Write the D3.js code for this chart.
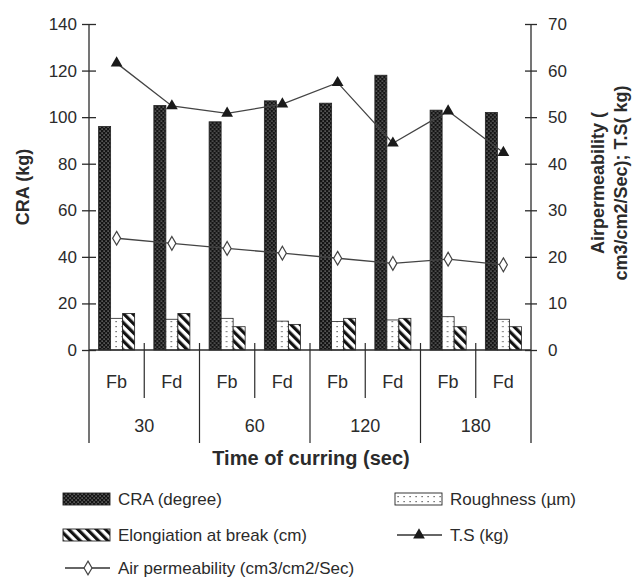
<!DOCTYPE html>
<html>
<head>
<meta charset="utf-8">
<script src="https://cdn.jsdelivr.net/npm/d3@7"></script>
<style>
    body { margin: 0; background: #fff; }
    svg { font-family: "Liberation Sans", Arial, sans-serif; }
</style>
</head>
<body>
<svg id="chart"></svg>
<script>
// data
const times = ['30', '60', '120', '180'];
const fabrics = ['Fb', 'Fd'];
const craVals = [96, 105, 98, 107, 106, 118, 103, 102];
const roughVals = [13.6, 13.2, 13.6, 12.4, 12.2, 12.9, 14.3, 13.2];
const elongVals = [15.7, 15.7, 10, 11, 13.6, 13.6, 10, 10];
const tsVals = [61.6, 52.4, 50.8, 52.8, 57.4, 44.4, 51.3, 42.4];
const airVals = [24.0, 22.9, 21.8, 20.8, 19.7, 18.6, 19.5, 18.3];
const leftTicks = [0, 20, 40, 60, 80, 100, 120, 140];
const rightTicks = [0, 10, 20, 30, 40, 50, 60, 70];

const config = {
    width: 632, height: 580,
    margin: { top: 24, left: 89, right: 101, bottom: 230 }
};
const innerW = config.width - config.margin.left - config.margin.right;
const innerH = config.height - config.margin.top - config.margin.bottom;
const ink = '#2b2b2b';

const cats = [];
times.forEach(t => fabrics.forEach(f => cats.push(t + '|' + f)));
const rows = cats.map((c, i) => ({
    key: c, time: c.split('|')[0], fab: c.split('|')[1],
    cra: craVals[i], rough: roughVals[i], elong: elongVals[i],
    ts: tsVals[i], air: airVals[i]
}));
const barKeys = ['cra', 'rough', 'elong'];

const svg = d3.select('#chart')
    .attr('width', config.width)
    .attr('height', config.height);

// fill patterns
const defs = svg.append('defs');
const craPat = defs.append('pattern').attr('id', 'pCra')
    .attr('patternUnits', 'userSpaceOnUse').attr('width', 4).attr('height', 4);
craPat.append('rect').attr('width', 4).attr('height', 4).attr('fill', '#151515');
craPat.append('rect').attr('x', 0.5).attr('y', 0.5).attr('width', 1.2).attr('height', 1.2).attr('fill', '#9a9a9a');
craPat.append('rect').attr('x', 2.5).attr('y', 2.5).attr('width', 1.2).attr('height', 1.2).attr('fill', '#9a9a9a');

const roughPat = defs.append('pattern').attr('id', 'pRough')
    .attr('patternUnits', 'userSpaceOnUse').attr('width', 6).attr('height', 5);
roughPat.append('rect').attr('width', 6).attr('height', 5).attr('fill', '#fff');
roughPat.append('rect').attr('x', 2.5).attr('y', 2).attr('width', 1.2).attr('height', 1.2).attr('fill', '#444');

const elongPat = defs.append('pattern').attr('id', 'pElong')
    .attr('patternUnits', 'userSpaceOnUse').attr('width', 6.5).attr('height', 6.5)
    .attr('patternTransform', 'rotate(-45)');
elongPat.append('rect').attr('width', 6.5).attr('height', 6.5).attr('fill', '#fff');
elongPat.append('rect').attr('width', 3.2).attr('height', 6.5).attr('fill', '#111');

const fills = { cra: 'url(#pCra)', rough: 'url(#pRough)', elong: 'url(#pElong)' };

const chart = svg.append('g')
    .attr('transform', `translate(${config.margin.left},${config.margin.top})`);

// scales
const xScale = d3.scaleBand().domain(cats).range([0, innerW]);
const xSub = d3.scaleBand().domain(barKeys).range([0, xScale.bandwidth()])
    .paddingInner(0).paddingOuter(0.8);
const yLeft = d3.scaleLinear().domain([0, 140]).range([innerH, 0]);
const yRight = d3.scaleLinear().domain([0, 70]).range([innerH, 0]);
const xCenter = d => xScale(d.key) + xScale.bandwidth() / 2;

// bars
chart.append('g')
    .selectAll('g')
    .data(rows)
    .join('g')
    .attr('transform', d => `translate(${xScale(d.key)},0)`)
    .selectAll('rect')
    .data(d => barKeys.map(k => ({ key: k, value: d[k] })))
    .join('rect')
    .attr('x', d => xSub(d.key))
    .attr('y', d => yLeft(d.value))
    .attr('width', xSub.bandwidth())
    .attr('height', d => innerH - yLeft(d.value))
    .attr('fill', d => fills[d.key])
    .attr('stroke', '#222')
    .attr('stroke-width', 0.8);

// axes
const tickStyle = g => {
    g.select('.domain').remove();
    g.selectAll('.tick line').attr('stroke', ink).attr('stroke-width', 1.3);
    g.selectAll('.tick text').attr('fill', ink).style('font-size', '17px');
};

const yAxisL = chart.append('g')
    .call(d3.axisLeft(yLeft).tickValues(leftTicks).tickSize(7).tickPadding(5))
    .call(tickStyle);
yAxisL.selectAll('.tick line').attr('x2', 7).attr('x1', -7);

const yAxisR = chart.append('g')
    .attr('transform', `translate(${innerW},0)`)
    .call(d3.axisRight(yRight).tickValues(rightTicks).tickSize(7).tickPadding(10))
    .call(tickStyle);
yAxisR.selectAll('.tick line').attr('x1', -6).attr('x2', 6);

// axis lines and category dividers
const subDrop = 48;
const groupDrop = 93;
chart.append('line')
    .attr('x1', 0).attr('x2', 0).attr('y1', 0).attr('y2', innerH + groupDrop)
    .attr('stroke', ink).attr('stroke-width', 1.3);
chart.append('line')
    .attr('x1', innerW).attr('x2', innerW).attr('y1', 0).attr('y2', innerH + groupDrop)
    .attr('stroke', ink).attr('stroke-width', 1.3);
chart.append('line')
    .attr('x1', 0).attr('x2', innerW).attr('y1', innerH).attr('y2', innerH)
    .attr('stroke', ink).attr('stroke-width', 1.3);

const bounds = rows.slice(1).map(d => ({ x: xScale(d.key), group: d.fab === 'Fb' }));
chart.append('g').selectAll('line')
    .data(bounds)
    .join('line')
    .attr('x1', d => d.x).attr('x2', d => d.x)
    .attr('y1', innerH - 7)
    .attr('y2', d => innerH + (d.group ? groupDrop : subDrop))
    .attr('stroke', ink).attr('stroke-width', 1.2);

// category labels
chart.append('g').selectAll('text')
    .data(rows)
    .join('text')
    .attr('x', xCenter)
    .attr('y', innerH + 32)
    .attr('dy', '0.35em')
    .attr('text-anchor', 'middle')
    .attr('fill', ink)
    .style('font-size', '18px')
    .text(d => d.fab);

chart.append('g').selectAll('text')
    .data(times)
    .join('text')
    .attr('x', t => xScale(t + '|Fb') + xScale.bandwidth())
    .attr('y', innerH + 76)
    .attr('dy', '0.35em')
    .attr('text-anchor', 'middle')
    .attr('fill', ink)
    .style('font-size', '18px')
    .text(t => t);

// lines
const line = key => d3.line().x(xCenter).y(d => yRight(d[key]));

chart.append('path')
    .datum(rows)
    .attr('fill', 'none').attr('stroke', '#444').attr('stroke-width', 1.3)
    .attr('d', line('ts'));
chart.append('path')
    .datum(rows)
    .attr('fill', 'none').attr('stroke', '#444').attr('stroke-width', 1.3)
    .attr('d', line('air'));

const triangle = d3.symbol().type(d3.symbolTriangle).size(60);
const diamond = d3.symbol().type(d3.symbolDiamond).size(55);

chart.append('g').selectAll('path')
    .data(rows)
    .join('path')
    .attr('transform', d => `translate(${xCenter(d)},${yRight(d.ts)})`)
    .attr('d', triangle)
    .attr('fill', '#1a1a1a');

chart.append('g').selectAll('path')
    .data(rows)
    .join('path')
    .attr('transform', d => `translate(${xCenter(d)},${yRight(d.air)})`)
    .attr('d', diamond)
    .attr('fill', '#fff').attr('stroke', '#444').attr('stroke-width', 1.2);

// titles
svg.append('text')
    .attr('transform', 'translate(29,187) rotate(-90)')
    .attr('text-anchor', 'middle')
    .attr('fill', ink)
    .style('font-size', '18px').style('font-weight', 'bold')
    .text('CRA (kg)');

svg.append('text')
    .attr('transform', 'translate(604,183) rotate(-90)')
    .attr('text-anchor', 'middle')
    .attr('fill', ink)
    .style('font-size', '18px').style('font-weight', 'bold')
    .text('Airpermeability (');
svg.append('text')
    .attr('transform', 'translate(627,183) rotate(-90)')
    .attr('text-anchor', 'middle')
    .attr('fill', ink)
    .style('font-size', '18px').style('font-weight', 'bold')
    .text('cm3/cm2/Sec); T.S( kg)');

svg.append('text')
    .attr('x', 311).attr('y', 465)
    .attr('text-anchor', 'middle')
    .attr('fill', ink)
    .style('font-size', '20px').style('font-weight', 'bold')
    .text('Time of curring (sec)');

// legend
const legendItems = [
    { label: 'CRA (degree)', kind: 'bar', key: 'cra', x: 63, y: 499 },
    { label: 'Roughness (\u00b5m)', kind: 'bar', key: 'rough', x: 395, y: 499 },
    { label: 'Elongiation at break (cm)', kind: 'bar', key: 'elong', x: 63, y: 535 },
    { label: 'T.S (kg)', kind: 'line', key: 'ts', x: 397, y: 535 },
    { label: 'Air permeability (cm3/cm2/Sec)', kind: 'line', key: 'air', x: 65, y: 568 }
];

const legend = svg.append('g');
legendItems.forEach(item => {
    const g = legend.append('g').attr('transform', `translate(${item.x},${item.y})`);
    if (item.kind === 'bar') {
        g.append('rect')
            .attr('x', 0).attr('y', -6).attr('width', 47).attr('height', 12)
            .attr('fill', fills[item.key]).attr('stroke', '#222').attr('stroke-width', 0.9);
    } else {
        g.append('line').attr('x1', 0).attr('x2', 45).attr('y1', 0).attr('y2', 0)
            .attr('stroke', '#333').attr('stroke-width', 1.3);
        if (item.key === 'ts') {
            g.append('path').attr('transform', 'translate(22,0)').attr('d', triangle).attr('fill', '#1a1a1a');
        } else {
            g.append('path').attr('transform', 'translate(23,0)').attr('d', diamond)
                .attr('fill', '#fff').attr('stroke', '#444').attr('stroke-width', 1.2);
        }
    }
    g.append('text')
        .attr('x', item.kind === 'bar' ? 55 : 53)
        .attr('y', 0)
        .attr('dy', '0.35em')
        .attr('fill', ink)
        .style('font-size', '17px')
        .text(item.label);
});
</script>
</body>
</html>
